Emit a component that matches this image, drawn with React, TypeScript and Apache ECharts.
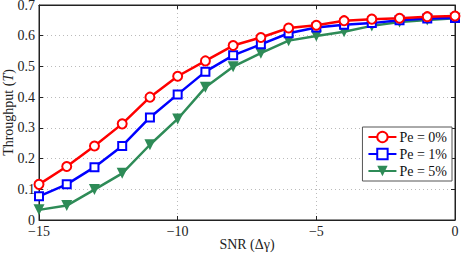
import React, { useEffect, useRef } from "react";
import * as echarts from "echarts";

const snr = [-15, -14, -13, -12, -11, -10, -9, -8, -7, -6, -5, -4, -3, -2, -1, 0];
const pe0 = [0.116, 0.174, 0.241, 0.313, 0.4, 0.468, 0.518, 0.568, 0.594, 0.625, 0.634, 0.649, 0.654, 0.657, 0.662, 0.664];
const pe1 = [0.077, 0.116, 0.172, 0.241, 0.334, 0.409, 0.483, 0.536, 0.572, 0.608, 0.627, 0.636, 0.641, 0.65, 0.656, 0.658];
const pe5 = [0.033, 0.047, 0.099, 0.152, 0.245, 0.329, 0.432, 0.499, 0.543, 0.584, 0.599, 0.613, 0.632, 0.645, 0.651, 0.657];
const seriesNames = ["Pe = 0%", "Pe = 1%", "Pe = 5%"];

const FONT = "Liberation Serif";

export default function App() {
  const ref = useRef<HTMLDivElement>(null);
  useEffect(() => {
    if (!ref.current) return;
    const chart = echarts.init(ref.current, undefined, { renderer: "svg" });
    const pair = (ys: number[]) => snr.map((x, i) => [x, ys[i]]);
    chart.setOption({
      animation: false,
      backgroundColor: "#fff",
      textStyle: { fontFamily: FONT },
      grid: {
        left: 39,
        right: 8,
        top: 5,
        bottom: 34,
        containLabel: false,
        outerBoundsMode: "none",
        show: true,
        borderColor: "#222",
        borderWidth: 1,
      },
      legend: {
        right: 11,
        top: 127,
        orient: "vertical",
        backgroundColor: "#fff",
        borderColor: "#555",
        borderWidth: 1,
        borderRadius: 0,
        padding: [3, 5, 3, 5],
        itemGap: 3,
        itemWidth: 28,
        itemHeight: 13,
        textStyle: { fontFamily: FONT, fontSize: 14, color: "#111", padding: [0, 0, 0, -2] },
        data: seriesNames,
      },
      xAxis: [
        {
          type: "value",
          min: -15,
          max: 0,
          interval: 5,
          name: "SNR (Δγ)",
          nameLocation: "middle",
          nameGap: 17,
          nameMoveOverlap: false,
          nameTextStyle: { fontFamily: FONT, fontSize: 14, color: "#222", verticalAlign: "top" },
          axisLine: { show: true, onZero: false, lineStyle: { color: "#222" } },
          axisTick: { show: true, inside: true, length: 4, lineStyle: { color: "#222" } },
          axisLabel: { fontFamily: FONT, fontSize: 14, color: "#222", margin: 4, formatter: (v: number) => (v < 0 ? "\u2212" + Math.abs(v) : String(v)) },
          splitLine: { show: true, lineStyle: { color: "#bbb", type: [1, 3] } },
        },
        {
          type: "value",
          position: "top",
          min: -15,
          max: 0,
          interval: 5,
          axisLine: { show: true, onZero: false, lineStyle: { color: "#222" } },
          axisTick: { show: true, inside: true, length: 4, lineStyle: { color: "#222" } },
          axisLabel: { show: false },
          splitLine: { show: false },
        },
      ],
      yAxis: [
        {
          type: "value",
          min: 0,
          max: 0.7,
          interval: 0.1,
          name: "{a|Throughput (}{b|T}{a|)}",
          nameLocation: "middle",
          nameGap: 24,
          nameMoveOverlap: false,
          nameTextStyle: {
            fontFamily: FONT,
            fontSize: 14,
            color: "#222",
            rich: {
              a: { fontFamily: FONT, fontSize: 14, color: "#222" },
              b: { fontFamily: FONT, fontSize: 14, color: "#222", fontStyle: "italic" },
            },
          },
          axisLine: { show: true, onZero: false, lineStyle: { color: "#222" } },
          axisTick: { show: true, inside: true, length: 4, lineStyle: { color: "#222" } },
          axisLabel: { fontFamily: FONT, fontSize: 14, color: "#222", margin: 4, formatter: (v: number) => (v === 0 ? "0" : v.toFixed(1)) },
          splitLine: { show: true, lineStyle: { color: "#bbb", type: [1, 3] } },
        },
        {
          type: "value",
          position: "right",
          min: 0,
          max: 0.7,
          interval: 0.1,
          axisLine: { show: true, onZero: false, lineStyle: { color: "#222" } },
          axisTick: { show: true, inside: true, length: 4, lineStyle: { color: "#222" } },
          axisLabel: { show: false },
          splitLine: { show: false },
        },
      ],
      series: [
        {
          name: seriesNames[0],
          type: "line",
          data: pair(pe0),
          symbol: "emptyCircle",
          symbolSize: 9,
          z: 5,
          lineStyle: { color: "#ff0000", width: 2.5 },
          itemStyle: { color: "#ff0000", borderWidth: 2.2 },
        },
        {
          name: seriesNames[1],
          type: "line",
          data: pair(pe1),
          symbol: "emptyRect",
          symbolSize: 8,
          z: 4,
          lineStyle: { color: "#0000ff", width: 2.5 },
          itemStyle: { color: "#0000ff", borderWidth: 2.2 },
        },
        {
          name: seriesNames[2],
          type: "line",
          data: pair(pe5),
          symbol: "triangle",
          symbolRotate: 180,
          symbolSize: 11,
          z: 3,
          lineStyle: { color: "#2e8b57", width: 2.5 },
          itemStyle: { color: "#2e8b57" },
        },
      ],
    });
    return () => chart.dispose();
  }, []);
  return <div ref={ref} style={{ width: 463, height: 254, position: "absolute", left: 0, top: 0 }} />;
}
